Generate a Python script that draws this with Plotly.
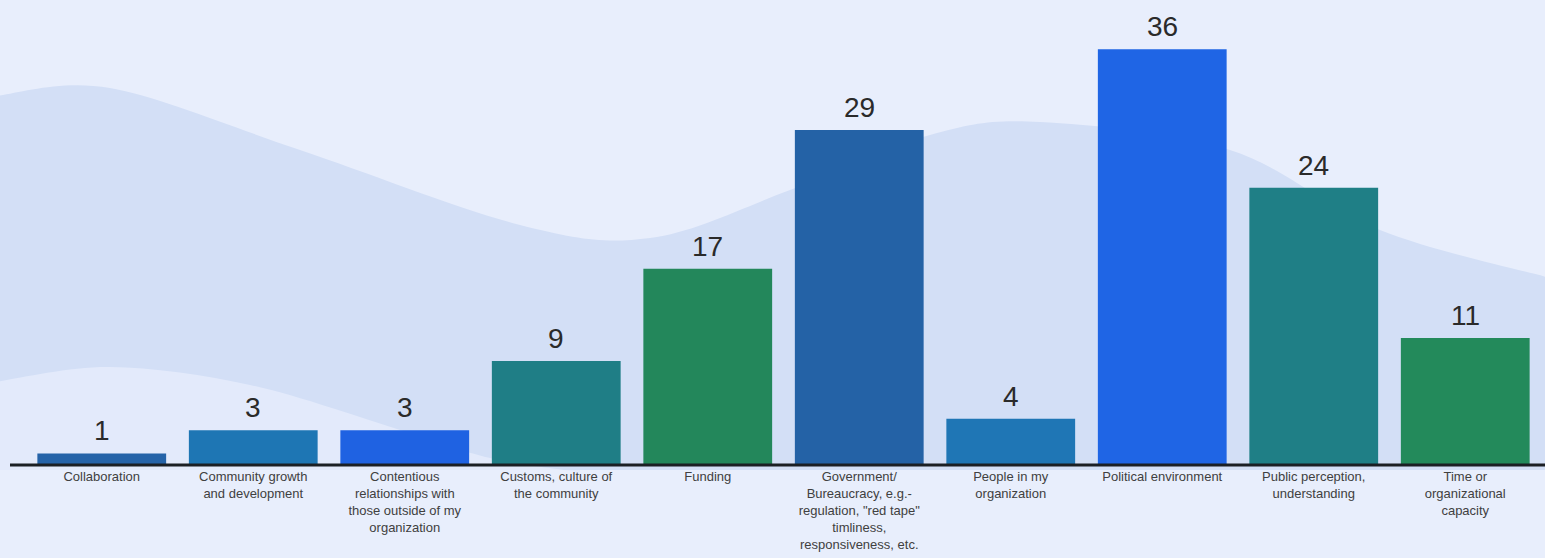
import plotly.graph_objects as go

categories = [
  "Collaboration",
  "Community growth<br>and development",
  "Contentious<br>relationships with<br>those outside of my<br>organization",
  "Customs, culture of<br>the community",
  "Funding",
  "Government/<br>Bureaucracy, e.g.-<br>regulation, \"red tape\"<br>timliness,<br>responsiveness, etc.",
  "People in my<br>organization",
  "Political environment",
  "Public perception,<br>understanding",
  "Time or<br>organizational<br>capacity",
]
counts = [1, 3, 3, 9, 17, 29, 4, 36, 24, 11]
bar_colors = ["#2563A8", "#1E76B4", "#1F62E2", "#1F7E86", "#23875B",
              "#2462A6", "#1F76B5", "#1F65E5", "#1F7F86", "#238A5B"]

W, H = 1545, 558
L, R, T, B = 26, 4, 3, 93
PW, PH = W - L - R, H - T - B
base_y = H - B

def to_paper(px, py):
  return (px - L) / PW, (base_y - py) / PH

def smooth_path(pts, close_pts):
  # catmull-rom through pts, then straight lines through close_pts
  p = [to_paper(*q) for q in pts]
  d = "M %.4f,%.4f" % p[0]
  for i in range(len(p) - 1):
    p0 = p[i - 1] if i > 0 else p[i]
    p1, p2 = p[i], p[i + 1]
    p3 = p[i + 2] if i + 2 < len(p) else p2
    c1 = (p1[0] + (p2[0] - p0[0]) / 6, p1[1] + (p2[1] - p0[1]) / 6)
    c2 = (p2[0] - (p3[0] - p1[0]) / 6, p2[1] - (p3[1] - p1[1]) / 6)
    d += " C %.4f,%.4f %.4f,%.4f %.4f,%.4f" % (c1 + c2 + p2)
  for q in close_pts:
    d += " L %.4f,%.4f" % to_paper(*q)
  return d + " Z"

upper_wave = [(-5, 96), (110, 88), (300, 150), (520, 225), (650, 238),
              (790, 190), (930, 135), (1040, 122), (1230, 150), (1380, 230), (1550, 278)]
lower_wave = [(-5, 382), (110, 367), (250, 385), (400, 430), (490, 458), (580, 472)]

fig = go.Figure()
fig.add_trace(go.Bar(
  x=categories,
  y=counts,
  marker_color=bar_colors,
  marker_line_width=0,
  hoverinfo="x+y",
))

# value labels sit a bit higher above the bars than plotly's outside text
for cat, v in zip(categories, counts):
  fig.add_annotation(
    x=cat, y=v, text=str(v), showarrow=False,
    yanchor="bottom", yshift=5,
    font=dict(size=28, color="#2a2a2a", family="Liberation Sans, Arial, sans-serif"),
  )

fig.update_layout(
  width=W, height=H,
  margin=dict(l=L, r=R, t=T, b=B),
  paper_bgcolor="#E8EEFC",
  plot_bgcolor="rgba(0,0,0,0)",
  bargap=0.15,
  showlegend=False,
  shapes=[
    dict(type="path", xref="paper", yref="paper", layer="below",
         path=smooth_path(upper_wave, [(1550, 470), (-5, 470)]),
         fillcolor="#D3DFF6", line=dict(width=0)),
    dict(type="path", xref="paper", yref="paper", layer="below",
         path=smooth_path(lower_wave, [(580, 470), (-5, 470)]),
         fillcolor="#E3EAFB", line=dict(width=0)),
    dict(type="line", xref="paper", yref="paper",
         x0=(10 - L) / PW, x1=(1545 - L) / PW, y0=0, y1=0,
         line=dict(color="#1b1f24", width=3)),
  ],
)
fig.update_xaxes(
  showgrid=False, showline=False, ticks="",
  tickangle=0,
  tickfont=dict(size=13, color="#404040", family="Liberation Sans, Arial, sans-serif"),
  ticklabelstandoff=2,
)
fig.update_yaxes(range=[0, 40], visible=False, showgrid=False)

fig.write_html("out.html", config={"displayModeBar": False},
               post_script="document.body.style.margin='0';")
